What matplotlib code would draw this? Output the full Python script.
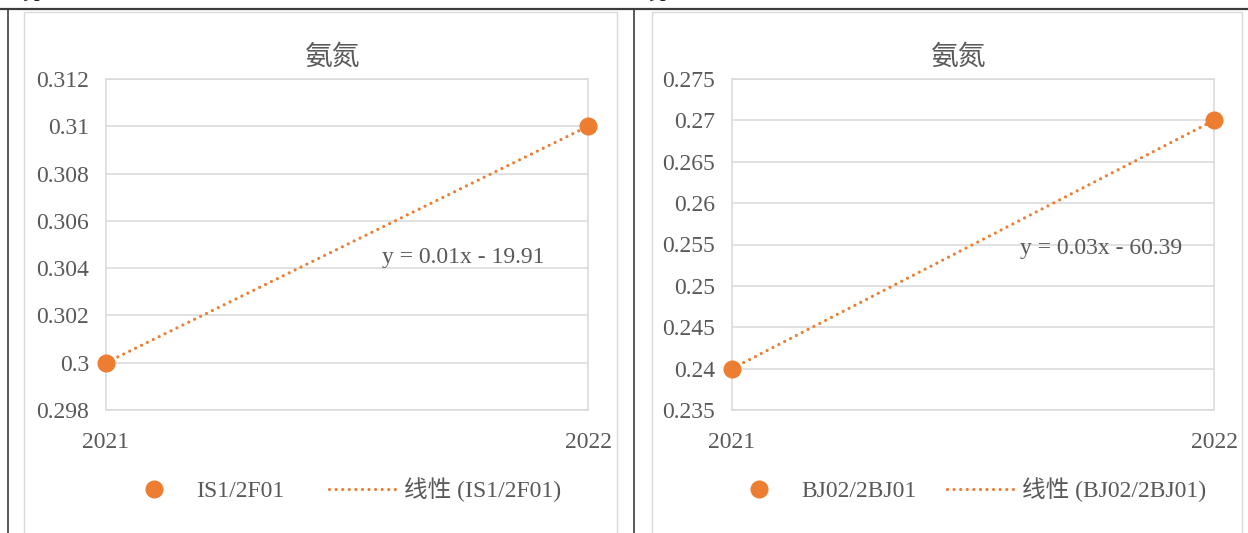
import numpy as np
import matplotlib
matplotlib.use("Agg")
import matplotlib.pyplot as plt
from matplotlib.lines import Line2D
from matplotlib.patches import Rectangle

plt.rcParams['font.family'] = ['Liberation Serif', 'Noto Sans CJK SC']

# Data
years = [2021, 2022]
title = "氨氮"
left_name = "IS1/2F01"
left_values = [0.30, 0.31]
left_yticks = [0.298, 0.300, 0.302, 0.304, 0.306, 0.308, 0.310, 0.312]
left_yticklabels = ["0.298", "0.3", "0.302", "0.304", "0.306", "0.308", "0.31", "0.312"]
right_name = "BJ02/2BJ01"
right_values = [0.24, 0.27]
right_yticks = [0.235, 0.240, 0.245, 0.250, 0.255, 0.260, 0.265, 0.270, 0.275]
right_yticklabels = ["0.235", "0.24", "0.245", "0.25", "0.255", "0.26", "0.265", "0.27", "0.275"]

ORANGE = "#ED7D31"
TEXT = "#595959"
GRID = "#D9D9D9"
RULE = "#3C3C3C"

W, H = 1248, 533
fig = plt.figure(figsize=(W / 100, H / 100), dpi=100)
fig.patch.set_facecolor("white")


def fx(px):
    return px / W


def fy(py):
    return 1 - py / H


# Document table rules
fig.add_artist(Line2D([0, 1], [fy(9), fy(9)], transform=fig.transFigure, color=RULE, lw=1.6))
for xp in (8, 634):
    fig.add_artist(Line2D([fx(xp), fx(xp)], [fy(9), 0], transform=fig.transFigure, color=RULE, lw=1.2))

# Lower edge of the heading line above the table
for xp in (22, 648):
    fig.text(fx(xp), fy(4), "势", va="bottom", ha="left", fontsize=15, color="#222222",
             family=['Noto Sans CJK SC'])

# Chart frames
for x0, x1 in ((24, 617), (652, 1242)):
    fig.add_artist(Rectangle((fx(x0), fy(545)), fx(x1 - x0), (545 - 12) / H,
                             transform=fig.transFigure, fill=False, edgecolor=GRID, lw=1.0))


def draw_panel(left_px, values, name, yticks, yticklabels, eq_pos, leg_center, colspace):
    ax = fig.add_axes([fx(left_px), fy(410), fx(482), (410 - 79) / H])
    ax.set_xlim(years[0], years[-1])
    ax.set_ylim(yticks[0], yticks[-1])
    ax.set_yticks(yticks)
    ax.set_yticklabels(yticklabels)
    ax.set_xticks(years)
    ax.set_xticklabels([str(y) for y in years])
    ax.grid(axis="y", color=GRID, lw=1.1)
    ax.set_axisbelow(True)
    for sp in ax.spines.values():
        sp.set_color(GRID)
        sp.set_linewidth(1.1)
    ax.tick_params(axis="both", length=0, labelsize=17, colors=TEXT)
    ax.tick_params(axis="x", pad=16)
    ax.tick_params(axis="y", pad=12)

    # Linear trendline fitted to the points
    slope, intercept = np.polyfit(years, values, 1)
    xs = np.array(years, dtype=float)
    trend, = ax.plot(xs, slope * xs + intercept, color=ORANGE, lw=2.3,
                     linestyle=(0, (0.01, 2.05)), dash_capstyle="round",
                     label=f"线性 ({name})", zorder=2)
    pts, = ax.plot(years, values, linestyle="none", marker="o", markersize=12,
                   color=ORANGE, label=name, zorder=3, clip_on=False)

    sign = "-" if intercept < 0 else "+"
    ax.text(eq_pos[0], eq_pos[1], f"y = {slope:.2f}x {sign} {abs(intercept):.2f}",
            transform=ax.transAxes, ha="left", va="center", fontsize=17, color=TEXT)

    ax.set_title(title, x=0.471, pad=10, fontsize=20, color=TEXT,
                 family=['Noto Sans CJK SC'], fontweight="light")

    fig.legend(handles=[pts, trend], loc="center", ncol=2,
               bbox_to_anchor=(fx(leg_center), fy(490)), bbox_transform=fig.transFigure,
               frameon=False, fontsize=17, handlelength=2.8, handletextpad=0.38,
               columnspacing=colspace, labelcolor=TEXT)
    return ax


draw_panel(106, left_values, left_name, left_yticks, left_yticklabels,
           (0.573, 0.462), 341, 1.9)
draw_panel(732, right_values, right_name, right_yticks, right_yticklabels,
           (0.598, 0.489), 966, 1.3)

fig.savefig("out.png", dpi=100)
